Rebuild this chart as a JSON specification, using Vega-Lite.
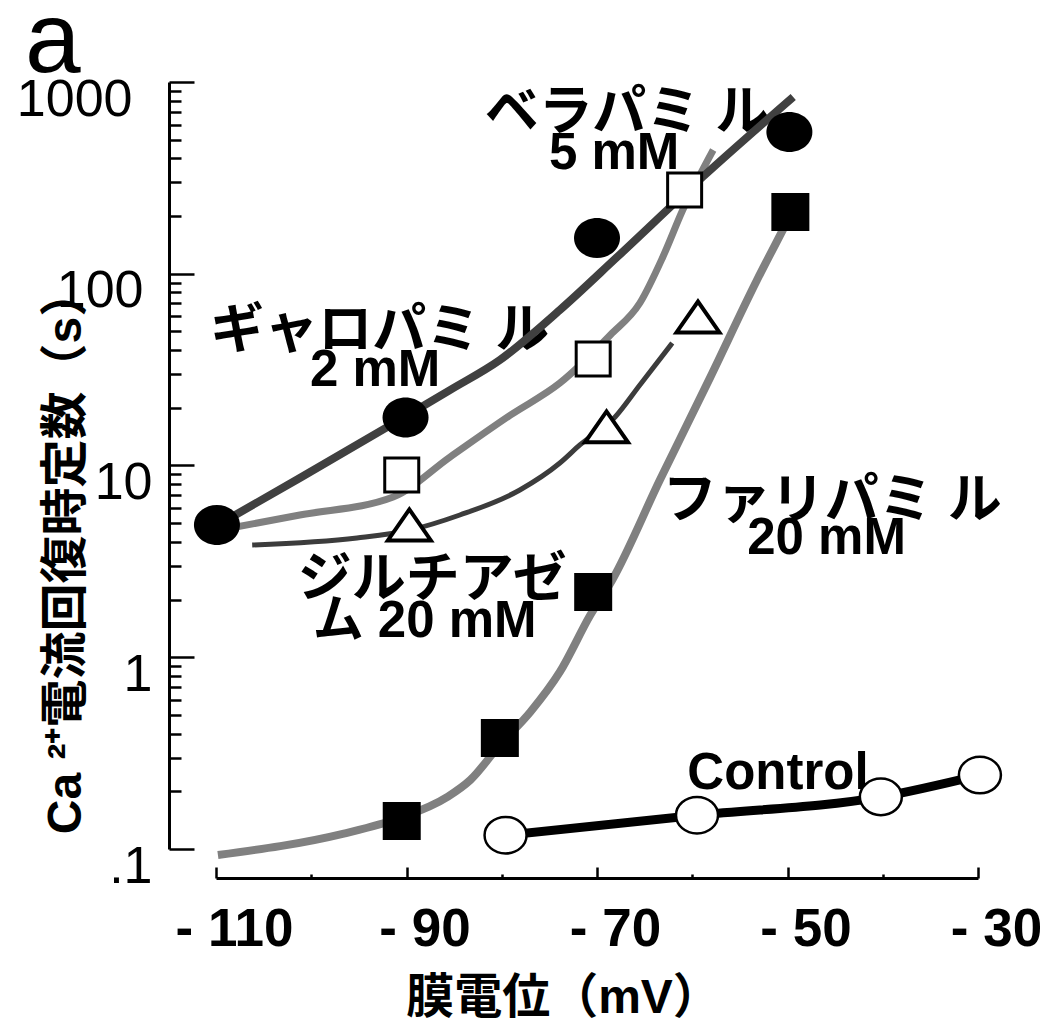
{
  "$schema": "https://vega.github.io/schema/vega-lite/v6.json",
  "width": 762,
  "height": 767,
  "autosize": {"type": "none"},
  "padding": {"left": 216, "top": 82, "right": 64, "bottom": 172},
  "background": "white",
  "title": {"text": "a", "font": "Liberation Sans", "fontSize": 100, "fontWeight": "normal", "color": "black", "anchor": "start", "frame": "group", "baseline": "alphabetic", "dx": -191, "dy": 115, "offset": 16},
  "config": {
    "view": {"stroke": null},
    "axis": {"grid": false, "domainColor": "black", "tickColor": "black", "domainWidth": 3, "tickWidth": 2.5, "labelColor": "black", "titleColor": "black", "labelFlush": false, "labelOverlap": false}
  },
  "datasets": {
    "lines": [
      {"s": "Verapamil", "mV": -109.8, "tau": 4.9},
      {"s": "Verapamil", "mV": -101.2, "tau": 8.6},
      {"s": "Verapamil", "mV": -90.05, "tau": 18.1},
      {"s": "Verapamil", "mV": -85.4, "tau": 24.8},
      {"s": "Verapamil", "mV": -80.2, "tau": 35.5},
      {"s": "Verapamil", "mV": -73.9, "tau": 64.7},
      {"s": "Verapamil", "mV": -67.9, "tau": 122},
      {"s": "Verapamil", "mV": -58.9, "tau": 320},
      {"s": "Verapamil", "mV": -49.4, "tau": 835},
      {"s": "Gallopamil", "mV": -109.6, "tau": 4.61},
      {"s": "Gallopamil", "mV": -101.2, "tau": 5.52},
      {"s": "Gallopamil", "mV": -91.4, "tau": 6.85},
      {"s": "Gallopamil", "mV": -85.4, "tau": 11.1},
      {"s": "Gallopamil", "mV": -79.1, "tau": 18.3},
      {"s": "Gallopamil", "mV": -73.9, "tau": 26.9},
      {"s": "Gallopamil", "mV": -68.6, "tau": 47.9},
      {"s": "Gallopamil", "mV": -65.5, "tau": 70.4},
      {"s": "Gallopamil", "mV": -63.1, "tau": 122},
      {"s": "Gallopamil", "mV": -61.0, "tau": 215},
      {"s": "Gallopamil", "mV": -57.8, "tau": 442},
      {"s": "Diltiazem", "mV": -106.2, "tau": 3.85},
      {"s": "Diltiazem", "mV": -95.2, "tau": 4.19},
      {"s": "Diltiazem", "mV": -89.6, "tau": 4.61},
      {"s": "Diltiazem", "mV": -84.4, "tau": 5.52},
      {"s": "Diltiazem", "mV": -78.1, "tau": 7.45},
      {"s": "Diltiazem", "mV": -73.9, "tau": 10.3},
      {"s": "Diltiazem", "mV": -71.8, "tau": 12.8},
      {"s": "Diltiazem", "mV": -68.1, "tau": 17.9},
      {"s": "Diltiazem", "mV": -65.5, "tau": 26.3},
      {"s": "Diltiazem", "mV": -62.1, "tau": 43.5},
      {"s": "Farlipamil", "mV": -109.8, "tau": 0.093},
      {"s": "Farlipamil", "mV": -96.7, "tau": 0.12},
      {"s": "Farlipamil", "mV": -90.7, "tau": 0.145},
      {"s": "Farlipamil", "mV": -85.7, "tau": 0.187},
      {"s": "Farlipamil", "mV": -83.3, "tau": 0.229},
      {"s": "Farlipamil", "mV": -80.2, "tau": 0.349},
      {"s": "Farlipamil", "mV": -77.0, "tau": 0.518},
      {"s": "Farlipamil", "mV": -73.9, "tau": 0.838},
      {"s": "Farlipamil", "mV": -70.7, "tau": 1.66},
      {"s": "Farlipamil", "mV": -68.4, "tau": 2.53},
      {"s": "Farlipamil", "mV": -63.4, "tau": 8.4},
      {"s": "Farlipamil", "mV": -58.1, "tau": 28.9},
      {"s": "Farlipamil", "mV": -53.2, "tau": 92.7},
      {"s": "Farlipamil", "mV": -50.5, "tau": 169},
      {"s": "Farlipamil", "mV": -49.7, "tau": 202},
      {"s": "Control", "mV": -79.6, "tau": 0.118},
      {"s": "Control", "mV": -59.5, "tau": 0.150},
      {"s": "Control", "mV": -40.2, "tau": 0.187},
      {"s": "Control", "mV": -29.8, "tau": 0.243}
    ],
    "points": [
      {"s": "Verapamil", "mV": -109.9, "tau": 4.9},
      {"s": "Verapamil", "mV": -90.1, "tau": 17.8},
      {"s": "Verapamil", "mV": -70.0, "tau": 153.6},
      {"s": "Verapamil", "mV": -49.8, "tau": 548},
      {"s": "Gallopamil", "mV": -90.5, "tau": 8.92},
      {"s": "Gallopamil", "mV": -70.4, "tau": 35.9},
      {"s": "Gallopamil", "mV": -60.8, "tau": 273},
      {"s": "Diltiazem", "mV": -89.7, "tau": 4.9},
      {"s": "Diltiazem", "mV": -69.0, "tau": 15.9},
      {"s": "Diltiazem", "mV": -59.4, "tau": 59.5},
      {"s": "Farlipamil", "mV": -90.5, "tau": 0.14},
      {"s": "Farlipamil", "mV": -80.2, "tau": 0.379},
      {"s": "Farlipamil", "mV": -70.4, "tau": 2.19},
      {"s": "Farlipamil", "mV": -49.7, "tau": 210},
      {"s": "Control", "mV": -79.6, "tau": 0.118},
      {"s": "Control", "mV": -59.5, "tau": 0.150},
      {"s": "Control", "mV": -40.2, "tau": 0.187},
      {"s": "Control", "mV": -29.8, "tau": 0.243}
    ],
    "labels": [
      {"mV": -66.85, "tau": 714, "text": "ベラパミ ル"},
      {"mV": -68.2, "tau": 442, "text": "5 mM"},
      {"mV": -92.8, "tau": 52.1, "text": "ギャロパミ ル"},
      {"mV": -93.3, "tau": 32.6, "text": "2 mM"},
      {"mV": -87.3, "tau": 2.62, "text": "ジルチアゼ"},
      {"mV": -88.1, "tau": 1.6, "text": "ム 20 mM"},
      {"mV": -45.3, "tau": 6.77, "text": "ファリパミ ル"},
      {"mV": -45.9, "tau": 4.34, "text": "20 mM"},
      {"mV": -51.0, "tau": 0.258, "text": "Control"}
    ]
  },
  "resolve": {"axis": {"x": "independent", "y": "independent"}},
  "layer": [
    {
      "data": {"name": "labels"},
      "transform": [{"filter": {"field": "text", "oneOf": ["ベラパミ ル", "ギャロパミ ル", "ジルチアゼ", "ファリパミ ル"]}}],
      "mark": {"type": "text", "font": "Liberation Sans, Noto Sans CJK JP", "fontSize": 54, "fontWeight": "bold", "color": "black", "align": "center", "baseline": "middle", "dy": 4},
      "encoding": {
        "x": {"field": "mV", "type": "quantitative", "scale": {"type": "linear", "domain": [-110, -30], "nice": false, "zero": false}, "axis": null},
        "y": {"field": "tau", "type": "quantitative", "scale": {"type": "log", "domain": [0.1, 1000], "nice": false}, "axis": null},
        "text": {"field": "text", "type": "nominal"}
      }
    },
    {
      "data": {"name": "labels"},
      "transform": [{"filter": {"not": {"field": "text", "oneOf": ["ベラパミ ル", "ギャロパミ ル", "ジルチアゼ", "ファリパミ ル"]}}}],
      "mark": {"type": "text", "font": "Liberation Sans, Noto Sans CJK JP", "fontSize": 51, "fontWeight": "bold", "color": "black", "align": "center", "baseline": "middle", "dy": 4},
      "encoding": {
        "x": {"field": "mV", "type": "quantitative", "scale": {"type": "linear", "domain": [-110, -30], "nice": false, "zero": false}, "axis": null},
        "y": {"field": "tau", "type": "quantitative", "scale": {"type": "log", "domain": [0.1, 1000], "nice": false}, "axis": null},
        "text": {"field": "text", "type": "nominal"}
      }
    },
    {
      "data": {"name": "lines"},
      "transform": [{"filter": "datum.s == 'Farlipamil'"}],
      "mark": {"type": "line", "interpolate": "monotone", "color": "#808080", "strokeWidth": 8},
      "encoding": {
        "x": {"field": "mV", "type": "quantitative", "scale": {"type": "linear", "domain": [-110, -30], "nice": false, "zero": false},
          "axis": {"orient": "bottom", "offset": 29, "values": [-110, -90, -70, -50, -30], "tickSize": -11, "labelPadding": 62, "labelExpr": "'- ' + (-datum.value)", "labelFont": "Liberation Sans", "labelFontSize": 53, "labelFontWeight": "bold", "labelBaseline": "middle", "labelAlign": "center", "labelOffset": 18,
            "title": "膜電位（mV）", "titleFont": "Liberation Sans, Noto Sans CJK JP", "titleFontSize": 48, "titleFontWeight": "bold", "titleX": 347, "titleY": 120, "titleBaseline": "middle", "titleAlign": "center", "titleAngle": 0}},
        "y": {"field": "tau", "type": "quantitative", "scale": {"type": "log", "domain": [0.1, 1000], "nice": false},
          "axis": {"orient": "left", "offset": 47, "values": [0.1, 1, 10, 100, 1000], "tickSize": -25,
            "labelPadding": {"condition": [{"test": "datum.value == 1000", "value": 62}, {"test": "datum.value == 100", "value": 51}], "value": 42},
            "labelExpr": "datum.value < 1 ? '.1' : '' + datum.value", "labelFont": "Liberation Sans", "labelFontSize": 52, "labelFontWeight": "normal", "labelBaseline": "middle", "labelAlign": "right", "labelOffset": 17,
            "title": "Ca ²⁺電流回復時定数（s）", "titleFont": "Liberation Sans, Noto Sans CJK JP", "titleFontSize": 48, "titleFontWeight": "bold", "titleAngle": 270, "titleX": -103, "titleY": 469, "titleBaseline": "middle", "titleAlign": "center"}}
      }
    },
    {
      "data": {"name": "lines"},
      "transform": [{"filter": "datum.s == 'Gallopamil'"}],
      "mark": {"type": "line", "interpolate": "monotone", "color": "#808080", "strokeWidth": 7},
      "encoding": {
        "x": {"field": "mV", "type": "quantitative", "scale": {"type": "linear", "domain": [-110, -30], "nice": false, "zero": false},
          "axis": {"orient": "bottom", "offset": 29, "values": [-100, -80, -60, -40], "tickSize": -4, "labels": false, "domain": false, "title": null}},
        "y": {"field": "tau", "type": "quantitative", "scale": {"type": "log", "domain": [0.1, 1000], "nice": false},
          "axis": {"orient": "left", "offset": 47, "values": [0.2, 0.3, 0.4, 0.5, 0.6, 0.7, 0.8, 0.9, 2, 3, 4, 5, 6, 7, 8, 9, 20, 30, 40, 50, 60, 70, 80, 90, 200, 300, 400, 500, 600, 700, 800, 900], "tickSize": -12, "labels": false, "domain": false, "title": null}}
      }
    },
    {
      "data": {"name": "lines"},
      "transform": [{"filter": "datum.s == 'Diltiazem'"}],
      "mark": {"type": "line", "interpolate": "monotone", "color": "#3c3c3c", "strokeWidth": 5},
      "encoding": {
        "x": {"field": "mV", "type": "quantitative", "scale": {"type": "linear", "domain": [-110, -30], "nice": false, "zero": false}, "axis": null},
        "y": {"field": "tau", "type": "quantitative", "scale": {"type": "log", "domain": [0.1, 1000], "nice": false}, "axis": null}
      }
    },
    {
      "data": {"name": "lines"},
      "transform": [{"filter": "datum.s == 'Verapamil'"}],
      "mark": {"type": "line", "interpolate": "monotone", "color": "#404040", "strokeWidth": 8},
      "encoding": {
        "x": {"field": "mV", "type": "quantitative", "scale": {"type": "linear", "domain": [-110, -30], "nice": false, "zero": false}, "axis": null},
        "y": {"field": "tau", "type": "quantitative", "scale": {"type": "log", "domain": [0.1, 1000], "nice": false}, "axis": null}
      }
    },
    {
      "data": {"name": "lines"},
      "transform": [{"filter": "datum.s == 'Control'"}],
      "mark": {"type": "line", "interpolate": "monotone", "color": "black", "strokeWidth": 9},
      "encoding": {
        "x": {"field": "mV", "type": "quantitative", "scale": {"type": "linear", "domain": [-110, -30], "nice": false, "zero": false}, "axis": null},
        "y": {"field": "tau", "type": "quantitative", "scale": {"type": "log", "domain": [0.1, 1000], "nice": false}, "axis": null}
      }
    },
    {
      "data": {"name": "points"},
      "transform": [{"filter": "datum.s == 'Verapamil'"}],
      "mark": {"type": "point", "shape": "M-1,0A1,0.87,0,1,1,1,0A1,0.87,0,1,1,-1,0Z", "filled": true, "fill": "black", "stroke": null, "size": 2116, "opacity": 1},
      "encoding": {
        "x": {"field": "mV", "type": "quantitative", "scale": {"type": "linear", "domain": [-110, -30], "nice": false, "zero": false}, "axis": null},
        "y": {"field": "tau", "type": "quantitative", "scale": {"type": "log", "domain": [0.1, 1000], "nice": false}, "axis": null}
      }
    },
    {
      "data": {"name": "points"},
      "transform": [{"filter": "datum.s == 'Gallopamil'"}],
      "mark": {"type": "point", "shape": "square", "filled": true, "fill": "white", "stroke": "black", "strokeWidth": 3, "size": 1156, "opacity": 1},
      "encoding": {
        "x": {"field": "mV", "type": "quantitative", "scale": {"type": "linear", "domain": [-110, -30], "nice": false, "zero": false}, "axis": null},
        "y": {"field": "tau", "type": "quantitative", "scale": {"type": "log", "domain": [0.1, 1000], "nice": false}, "axis": null}
      }
    },
    {
      "data": {"name": "points"},
      "transform": [{"filter": "datum.s == 'Diltiazem'"}],
      "mark": {"type": "point", "shape": "M-1,0.72L1,0.72L0,-0.72Z", "filled": true, "fill": "white", "stroke": "black", "strokeWidth": 4, "size": 1849, "opacity": 1},
      "encoding": {
        "x": {"field": "mV", "type": "quantitative", "scale": {"type": "linear", "domain": [-110, -30], "nice": false, "zero": false}, "axis": null},
        "y": {"field": "tau", "type": "quantitative", "scale": {"type": "log", "domain": [0.1, 1000], "nice": false}, "axis": null}
      }
    },
    {
      "data": {"name": "points"},
      "transform": [{"filter": "datum.s == 'Farlipamil'"}],
      "mark": {"type": "point", "shape": "square", "filled": true, "fill": "black", "stroke": null, "size": 1444, "opacity": 1},
      "encoding": {
        "x": {"field": "mV", "type": "quantitative", "scale": {"type": "linear", "domain": [-110, -30], "nice": false, "zero": false}, "axis": null},
        "y": {"field": "tau", "type": "quantitative", "scale": {"type": "log", "domain": [0.1, 1000], "nice": false}, "axis": null}
      }
    },
    {
      "data": {"name": "points"},
      "transform": [{"filter": "datum.s == 'Control'"}],
      "mark": {"type": "point", "shape": "M-1,0A1,0.87,0,1,1,1,0A1,0.87,0,1,1,-1,0Z", "filled": true, "fill": "white", "stroke": "black", "strokeWidth": 2.5, "size": 1764, "opacity": 1},
      "encoding": {
        "x": {"field": "mV", "type": "quantitative", "scale": {"type": "linear", "domain": [-110, -30], "nice": false, "zero": false}, "axis": null},
        "y": {"field": "tau", "type": "quantitative", "scale": {"type": "log", "domain": [0.1, 1000], "nice": false}, "axis": null}
      }
    }
  ]
}
